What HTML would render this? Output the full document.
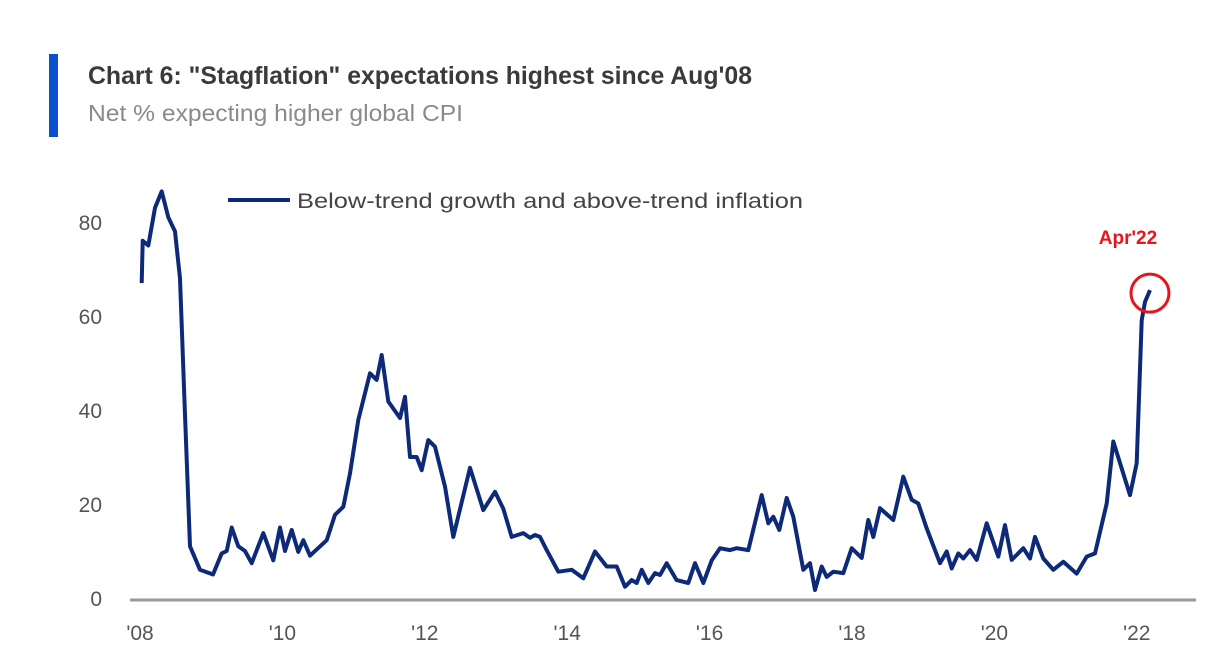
<!DOCTYPE html>
<html><head><meta charset="utf-8"><style>
html,body{margin:0;padding:0;background:#fff;}
svg{display:block;font-family:"Liberation Sans",sans-serif;}
</style></head><body>
<svg id="chart" width="1226" height="672" viewBox="0 0 1226 672">
<rect x="49" y="54" width="9" height="83" fill="#0a4fd0"/>
<text x="88" y="84" font-size="25" font-weight="bold" fill="#3a3a3a" textLength="664" lengthAdjust="spacingAndGlyphs">Chart 6: "Stagflation" expectations highest since Aug'08</text>
<text x="88" y="121" font-size="23" fill="#8a8a8a" textLength="375" lengthAdjust="spacingAndGlyphs">Net % expecting higher global CPI</text>
<line x1="228" y1="200" x2="290" y2="200" stroke="#0d2a78" stroke-width="4"/>
<text x="297" y="208" font-size="21" fill="#444" textLength="506" lengthAdjust="spacingAndGlyphs">Below-trend growth and above-trend inflation</text>
<line x1="130" y1="600" x2="1196" y2="600" stroke="#999" stroke-width="3"/>
<g id="yticks"></g><g id="xticks"></g>
<path id="series" fill="none" stroke="#0d2a78" stroke-width="4" stroke-linejoin="round"/>
<circle id="hl" r="19" fill="none" stroke="#e8141c" stroke-width="3"/>
<text id="hllabel" font-size="19" font-weight="bold" fill="#e8141c" text-anchor="middle">Apr'22</text>
</svg>
<script>
const dates=[2008.024,2008.038,2008.117,2008.211,2008.305,2008.397,2008.492,2008.562,2008.632,2008.702,2008.843,2009.025,2009.147,2009.218,2009.288,2009.381,2009.475,2009.569,2009.732,2009.872,2009.966,2010.037,2010.131,2010.223,2010.294,2010.388,2010.622,2010.739,2010.855,2010.949,2011.066,2011.230,2011.324,2011.395,2011.487,2011.652,2011.722,2011.792,2011.886,2011.956,2012.049,2012.143,2012.284,2012.400,2012.635,2012.822,2012.986,2013.103,2013.220,2013.383,2013.478,2013.548,2013.618,2013.712,2013.875,2014.063,2014.226,2014.390,2014.555,2014.695,2014.812,2014.906,2014.976,2015.046,2015.139,2015.233,2015.303,2015.397,2015.537,2015.701,2015.795,2015.911,2016.029,2016.146,2016.287,2016.381,2016.543,2016.732,2016.824,2016.895,2016.979,2017.083,2017.176,2017.316,2017.410,2017.480,2017.574,2017.644,2017.737,2017.878,2017.996,2018.136,2018.229,2018.299,2018.393,2018.580,2018.720,2018.838,2018.931,2019.049,2019.236,2019.330,2019.400,2019.493,2019.563,2019.657,2019.751,2019.892,2020.055,2020.149,2020.243,2020.406,2020.500,2020.570,2020.687,2020.827,2020.968,2021.156,2021.296,2021.413,2021.577,2021.670,2021.904,2021.999,2022.069,2022.115,2022.185];
const values=[67,76,75,83,86.5,81,78,68,39,11,6,5,9.5,10,15,11,10,7.4,13.8,8,15,10,14.5,9.8,12.3,9,12.3,17.7,19.4,26.5,37.9,47.8,46.4,51.7,41.8,38.3,42.8,30,30,27.2,33.6,32.2,23.7,13,27.7,18.7,22.6,19,13,13.8,12.8,13.4,13,10.2,5.6,6,4.2,9.9,6.7,6.7,2.4,3.8,3.2,6,3.2,5.3,4.9,7.4,3.8,3.2,7.4,3.2,8,10.6,10.2,10.6,10.2,21.9,15.9,17.3,14.5,21.3,17.3,6,7.4,1.7,6.7,4.5,5.6,5.3,10.6,8.5,16.6,13,19.1,16.6,25.8,20.9,20.1,14.8,7.4,9.9,6.3,9.5,8.4,10.2,8.1,15.9,8.8,15.5,8.1,10.6,8.4,13,8.4,6,7.7,5.2,8.8,9.5,20.1,33.3,21.9,28.7,59.1,63,65.5];
const yTicks=[0,20,40,60,80];
const xTicks=[2008,2010,2012,2014,2016,2018,2020,2022];
const xTickLabels=["'08","'10","'12","'14","'16","'18","'20","'22"];
const X=d=>140+(d-2008)*71.2;
const Y=v=>598-v*4.7;
const ns="http://www.w3.org/2000/svg";
const yg=document.getElementById('yticks'),xg=document.getElementById('xticks');
yTicks.forEach(t=>{const e=document.createElementNS(ns,'text');
e.setAttribute('x',102);e.setAttribute('y',Y(t)+8);e.setAttribute('font-size','21');e.setAttribute('fill','#555');e.setAttribute('text-anchor','end');


e.textContent=t;yg.appendChild(e);});
xTicks.forEach((t,i)=>{const e=document.createElementNS(ns,'text');
e.setAttribute('x',X(t));e.setAttribute('y',640);e.setAttribute('font-size','21');e.setAttribute('fill','#555');e.setAttribute('text-anchor','middle');


e.textContent=xTickLabels[i];xg.appendChild(e);});
document.getElementById('series').setAttribute('d',dates.map((d,i)=>(i?'L':'M')+X(d).toFixed(1)+','+Y(values[i]).toFixed(1)).join(''));
const li=dates.length-1;
const cx=X(dates[li]),cy=Y(values[li])+3;
const c=document.getElementById('hl');c.setAttribute('cx',cx);c.setAttribute('cy',cy);
const l=document.getElementById('hllabel');l.setAttribute('x',cx-22);l.setAttribute('y',cy-49);
</script>
</body></html>
